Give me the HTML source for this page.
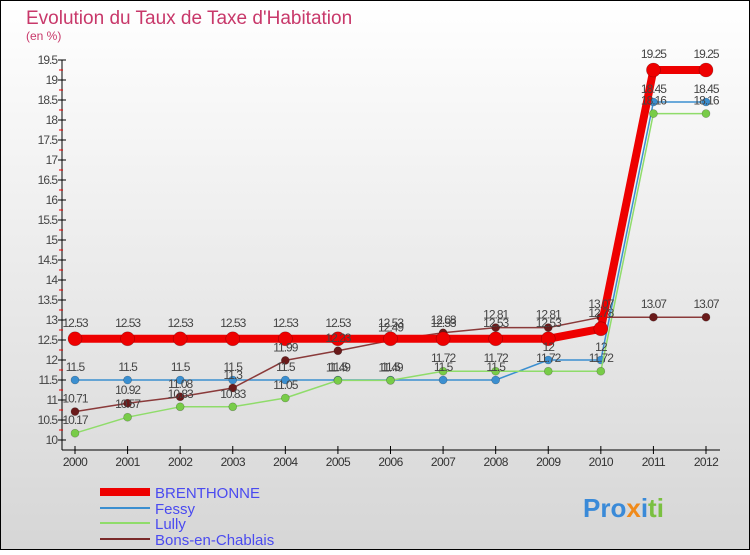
<!DOCTYPE html>
<html><head><meta charset="utf-8"><style>
body{margin:0}
#c{width:750px;height:550px;position:relative;font-family:"Liberation Sans",sans-serif;}
</style></head><body>
<div id="c">
<svg id="s" width="750" height="550" xmlns="http://www.w3.org/2000/svg">
<defs><linearGradient id="bg" x1="0" y1="0" x2="0" y2="1"><stop offset="0" stop-color="#ffffff"/><stop offset="1" stop-color="#d6d6d6"/></linearGradient></defs>
<rect x="0.5" y="0.5" width="749" height="549" fill="url(#bg)" stroke="#000"/>
<text x="26" y="24" font-size="19" fill="#c8386a">Evolution du Taux de Taxe d'Habitation</text>
<text x="26" y="40" font-size="12" fill="#c8386a">(en %)</text>
<g id="axes"></g><g id="series"></g><g id="labels"></g>
<g font-size="15" fill="#4a4af0">
<line x1="100" y1="492" x2="150" y2="492" stroke="#ee0000" stroke-width="8"/>
<text x="155" y="498">BRENTHONNE</text>
<line x1="100" y1="508" x2="150" y2="508" stroke="#3b8fd0" stroke-width="2"/>
<text x="155" y="514">Fessy</text>
<line x1="100" y1="523" x2="150" y2="523" stroke="#8fdc6a" stroke-width="2"/>
<text x="155" y="529">Lully</text>
<line x1="100" y1="539" x2="150" y2="539" stroke="#7a2a2a" stroke-width="2"/>
<text x="155" y="545">Bons-en-Chablais</text>
</g>
<text x="583" y="517" font-size="26" font-weight="bold"><tspan fill="#3a8ad8">Pro</tspan><tspan fill="#f08a1a">x</tspan><tspan fill="#3a8ad8">i</tspan><tspan fill="#7ac040">ti</tspan></text>
</svg>
</div>
<script>
const years=[2000,2001,2002,2003,2004,2005,2006,2007,2008,2009,2010,2011,2012];
const brenthonne=[12.53,12.53,12.53,12.53,12.53,12.53,12.53,12.53,12.53,12.53,12.78,19.25,19.25];
const fessy=[11.5,11.5,11.5,11.5,11.5,11.5,11.5,11.5,11.5,12,12,18.45,18.45];
const lully=[10.17,10.57,10.83,10.83,11.05,11.49,11.49,11.72,11.72,11.72,11.72,18.16,18.16];
const bons=[10.71,10.92,11.08,11.3,11.99,12.23,12.49,12.68,12.81,12.81,13.07,13.07,13.07];
const yTicks=[10,10.5,11,11.5,12,12.5,13,13.5,14,14.5,15,15.5,16,16.5,17,17.5,18,18.5,19,19.5];
const NS="http://www.w3.org/2000/svg";
const X=i=>75+i*(706-75)/(years.length-1);
const Y=v=>440-(v-10)*40;
function mk(tag,attrs,parent){const e=document.createElementNS(NS,tag);for(const k in attrs)e.setAttribute(k,attrs[k]);parent.appendChild(e);return e;}
const ax=document.getElementById('axes');
let e=mk('line',{x1:62,y1:60,x2:62,y2:450,stroke:'#000'},ax);


e=mk('line',{x1:62,y1:450,x2:720,y2:450,stroke:'#000'},ax);


yTicks.forEach((v,k)=>{
  const t=mk('line',{x1:58,x2:66,y1:Y(v),y2:Y(v),stroke:'#000'},ax);
  
  
  if(k>0){
  const m=mk('line',{x1:59,x2:63,y1:Y(v)+10,y2:Y(v)+10,stroke:'#e00'},ax);
  
  
  }
  const l=mk('text',{x:57,y:Y(v)+4,'font-size':12,fill:'#444','text-anchor':'end','letter-spacing':'-1'},ax);
  l.textContent=String(v);
  
  
});
years.forEach((yr,i)=>{
  const t=mk('line',{x1:X(i),x2:X(i),y1:446,y2:454,stroke:'#000'},ax);
  
  
  const l=mk('text',{x:X(i),y:466,'font-size':12,fill:'#333','text-anchor':'middle','letter-spacing':'-0.6'},ax);
  l.textContent=yr;
  
  
});
const sg=document.getElementById('series'),lg=document.getElementById('labels');
function draw(vals,color,dot,w,r,name){
  const p=mk('polyline',{points:vals.map((v,i)=>X(i)+','+Y(v)).join(' '),fill:'none',stroke:color,'stroke-width':w,'stroke-linejoin':'round'},sg);
  
  
  vals.forEach((v,i)=>{
    const c=mk('circle',{cx:X(i),cy:Y(v),r:r,fill:dot,stroke:'rgba(0,0,0,0.3)','stroke-width':0.6},sg);
    
    
    const t=mk('text',{x:X(i),y:Y(v)-(r>5?12:9),'font-size':12,fill:'#444','text-anchor':'middle','letter-spacing':'-1'},lg);
    t.textContent=String(v);
    
    
  });
}
draw(fessy,'#3b8fd0','#3b8fd0',1.5,4,'fessy');
draw(lully,'#8fdc6a','#78cc48',1.5,4,'lully');
draw(bons,'#8a3a3a','#6a1a1a',1.5,4,'bons');
draw(brenthonne,'#ee0000','#ee0000',8,7,'brenthonne');
</script>
</body></html>
